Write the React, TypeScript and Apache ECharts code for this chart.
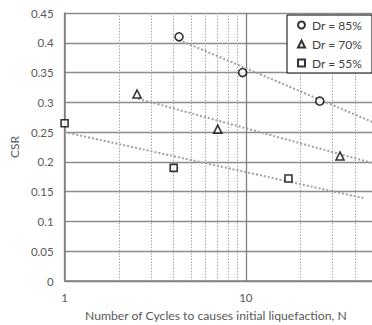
import React, { useEffect, useRef } from "react";
import * as echarts from "echarts";

const seriesNames = ["Dr = 85%", "Dr = 70%", "Dr = 55%"];
const dr85: [number, number][] = [[4.28, 0.41], [9.6, 0.35], [25.6, 0.302]];
const dr70: [number, number][] = [[2.51, 0.314], [7.0, 0.255], [33.1, 0.21]];
const dr55: [number, number][] = [[1.0, 0.265], [4.0, 0.19], [17.2, 0.172]];
const trend85: [number, number][] = [[4.28, 0.405], [50, 0.267]];
const trend70: [number, number][] = [[2.55, 0.306], [50, 0.198]];
const trend55: [number, number][] = [[1.0, 0.25], [45, 0.139]];
const minorX = [2, 3, 4, 5, 6, 7, 8, 9, 20, 30, 40, 50, 60, 70, 80, 90];
const yTicks = { min: 0, max: 0.45, interval: 0.05 };
const xTitle = "Number of Cycles to causes initial liquefaction, N";
const yTitle = "CSR";

const FONT = "Lato";
const TXT = "#595959";

export default function App() {
  const ref = useRef<HTMLDivElement>(null);
  useEffect(() => {
    if (!ref.current) return;
    const chart = echarts.init(ref.current, undefined, { renderer: "svg" });
    const markerStyle = { color: "#ffffff", borderColor: "#000000", borderWidth: 1.6 };
    const trendStyle = { color: "#a0a0a0", width: 2, type: [2, 2] as any };
    chart.setOption({
      animation: false,
      textStyle: { fontFamily: FONT },
      grid: { left: 63, top: 13, right: 3, bottom: 44 },
      xAxis: {
        type: "log",
        logBase: 10,
        min: 1,
        max: 100,
        axisLine: { show: true, lineStyle: { color: "#7f7f7f", width: 1.5 } },
        axisTick: { show: false },
        axisLabel: { color: TXT, fontSize: 11.5, fontFamily: FONT, margin: 10, showMaxLabel: false },
        splitLine: { show: true, lineStyle: { color: "#7f7f7f", width: 1.3 } },
      },
      yAxis: {
        type: "value",
        min: yTicks.min,
        max: yTicks.max,
        interval: yTicks.interval,
        name: yTitle,
        nameLocation: "middle",
        nameGap: 38,
        nameTextStyle: { color: TXT, fontSize: 12, fontFamily: FONT },
        axisLine: { show: true, lineStyle: { color: "#7f7f7f", width: 1.5 } },
        axisTick: { show: false },
        axisLabel: { color: TXT, fontSize: 11.5, fontFamily: FONT, margin: 11 },
        splitLine: { show: true, lineStyle: { color: "#8c8c8c", width: 1.3 } },
      },
      legend: {
        data: seriesNames,
        orient: "vertical",
        left: 287,
        top: 15,
        z: 20,
        backgroundColor: "#ffffff",
        borderColor: "#000000",
        borderWidth: 1,
        borderRadius: 0,
        padding: [4, 10, 4, 10],
        itemGap: 7,
        itemWidth: 7,
        itemHeight: 7,
        textStyle: { color: "#404040", fontSize: 12, fontFamily: FONT, padding: [0, 0, 0, 2] },
      },
      graphic: [
        {
          type: "text",
          left: 85,
          top: 309,
          style: { text: xTitle, fill: TXT, fontSize: 12.2, fontFamily: FONT },
        },
      ],
      series: [
        {
          type: "line",
          name: "trend85",
          data: trend85,
          symbol: "none",
          lineStyle: trendStyle,
          z: 2,
          silent: true,
          markLine: {
            silent: true,
            symbol: ["none", "none"],
            label: { show: false },
            lineStyle: { color: "#a6a6a6", width: 1, type: [1.5, 1.5] as any },
            data: minorX.map((x) => ({ xAxis: x })),
          },
        },
        { type: "line", name: "trend70", data: trend70, symbol: "none", lineStyle: trendStyle, z: 2, silent: true },
        { type: "line", name: "trend55", data: trend55, symbol: "none", lineStyle: trendStyle, z: 2, silent: true },
        { type: "scatter", name: seriesNames[0], data: dr85, symbol: "circle", symbolSize: 8, itemStyle: markerStyle, z: 5 },
        { type: "scatter", name: seriesNames[1], data: dr70, symbol: "triangle", symbolSize: 8, itemStyle: markerStyle, z: 5 },
        { type: "scatter", name: seriesNames[2], data: dr55, symbol: "rect", symbolSize: 7, itemStyle: markerStyle, z: 5 },
      ],
    });
    return () => chart.dispose();
  }, []);
  return (
    <div
      style={{ position: "absolute", left: 0, top: 0, width: 372, height: 325, overflow: "hidden", background: "#ffffff" }}
    >
      <div ref={ref} style={{ width: 430, height: 325 }} />
    </div>
  );
}
